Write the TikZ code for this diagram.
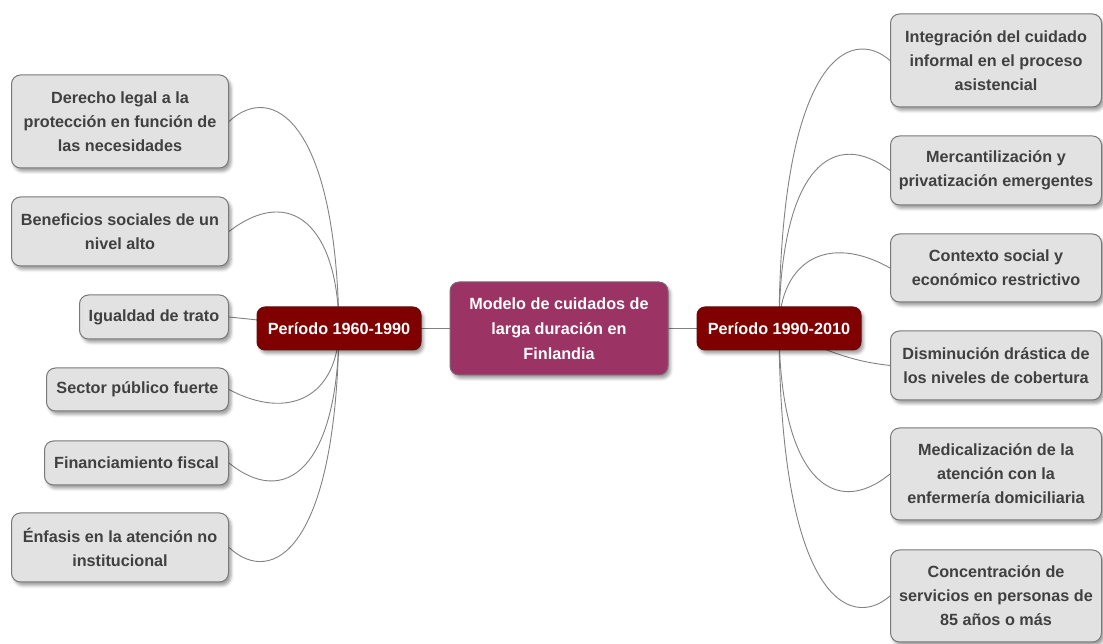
\documentclass[tikz,border=0pt]{standalone}
\usepackage{fontspec}
\setmainfont{Liberation Sans}
\usetikzlibrary{shadows.blur,backgrounds}

\definecolor{leaffill}{HTML}{E2E2E2}
\definecolor{leafline}{HTML}{787878}
\definecolor{leaftext}{HTML}{404040}
\definecolor{hubfill}{HTML}{9B3364}
\definecolor{hubline}{HTML}{7A6A72}
\definecolor{periodfill}{HTML}{800000}
\definecolor{periodline}{HTML}{5A1010}
\definecolor{linkcol}{HTML}{828282}

\tikzset{
  box/.style={rounded corners=9pt, align=center, inner sep=0pt,
    font=\bfseries\fontsize{16.2}{24}\selectfont,
    blur shadow={shadow xshift=2.5pt, shadow yshift=-3.5pt,
      shadow blur radius=3pt, shadow opacity=38}},
  leaf/.style={box, fill=leaffill, draw=leafline, line width=1pt, text=leaftext},
  period/.style={box, fill=periodfill, draw=periodline, line width=1pt, text=white,
    minimum width=164pt, minimum height=43pt, rounded corners=8pt},
  hub/.style={box, fill=hubfill, draw=hubline, line width=1pt, text=white,
    minimum width=218pt, minimum height=93pt,
    font=\bfseries\fontsize{16.2}{25}\selectfont},
  link/.style={draw=linkcol, line width=0.9pt},
}

\begin{document}
\begin{tikzpicture}[x=1pt, y=1pt]
  \useasboundingbox (0,0) rectangle (1103,644);

  % central topic and the two periods
  \node[hub] (hub) at (559,315.5) {Modelo de cuidados de\\larga duración en\\Finlandia};
  \node[period] (pl) at (339,315.5) {Período 1960-1990};
  \node[period] (pr) at (779,315.5) {Período 1990-2010};

  % 1960-1990 features
  \node[leaf, anchor=east, minimum width=217pt, minimum height=93pt] (l1) at (229,522.5)
    {Derecho legal a la\\protección en función de\\las necesidades};
  \node[leaf, anchor=east, minimum width=217pt, minimum height=69pt] (l2) at (229,412.5)
    {Beneficios sociales de un\\nivel alto};
  \node[leaf, anchor=east, minimum width=149pt, minimum height=44pt] (l3) at (229,327)
    {Igualdad de trato};
  \node[leaf, anchor=east, minimum width=182pt, minimum height=43pt] (l4) at (229,254.5)
    {Sector público fuerte};
  \node[leaf, anchor=east, minimum width=184pt, minimum height=44pt] (l5) at (229,181)
    {Financiamiento fiscal};
  \node[leaf, anchor=east, minimum width=217pt, minimum height=69pt] (l6) at (229,96.5)
    {Énfasis en la atención no\\institucional};

  % 1990-2010 features
  \node[leaf, anchor=west, minimum width=211pt, minimum height=93pt] (r1) at (890,583.5)
    {Integración del cuidado\\informal en el proceso\\asistencial};
  \node[leaf, anchor=west, minimum width=211pt, minimum height=69pt] (r2) at (890,473.5)
    {Mercantilización y\\privatización emergentes};
  \node[leaf, anchor=west, minimum width=211pt, minimum height=68pt] (r3) at (890,376)
    {Contexto social y\\económico restrictivo};
  \node[leaf, anchor=west, minimum width=211pt, minimum height=69pt] (r4) at (890,278.5)
    {Disminución drástica de\\los niveles de cobertura};
  \node[leaf, anchor=west, minimum width=211pt, minimum height=92pt] (r5) at (890,170)
    {Medicalización de la\\atención con la\\enfermería domiciliaria};
  \node[leaf, anchor=west, minimum width=211pt, minimum height=92pt] (r6) at (890,48)
    {Concentración de\\servicios en personas de\\85 años o más};

  % connectors, kept behind the boxes
  \begin{scope}[on background layer]
    \draw[link] (pl.center) -- (hub.center) -- (pr.center);

    \draw[link] (pl.center) .. controls +(-3,208) and +(43,40) .. (l1.east);
    \draw[link] (pl.center) .. controls +(-1,104) and +(61,47) .. (l2.east);
    \draw[link] (pl.center) -- (l3.east);
    \draw[link] (pl.center) .. controls +(-1,-68) and +(60,-32) .. (l4.east);
    \draw[link] (pl.center) .. controls +(-1,-142) and +(55,-45) .. (l5.east);
    \draw[link] (pl.center) .. controls +(-3,-222) and +(43,-40) .. (l6.east);

    \draw[link] (pr.center) .. controls +(1,270) and +(-40,35) .. (r1.west);
    \draw[link] (pr.center) .. controls +(1,165) and +(-55,42) .. (r2.west);
    \draw[link] (pr.center) .. controls +(1,68) and +(-62,35) .. (r3.west);
    \draw[link] (pr.center) .. controls +(60,-30) and +(-25,3) .. (r4.west);
    \draw[link] (pr.center) .. controls +(1,-152) and +(-55,-45) .. (r5.west);
    \draw[link] (pr.center) .. controls +(1,-270) and +(-40,-35) .. (r6.west);
  \end{scope}
\end{tikzpicture}
\end{document}
